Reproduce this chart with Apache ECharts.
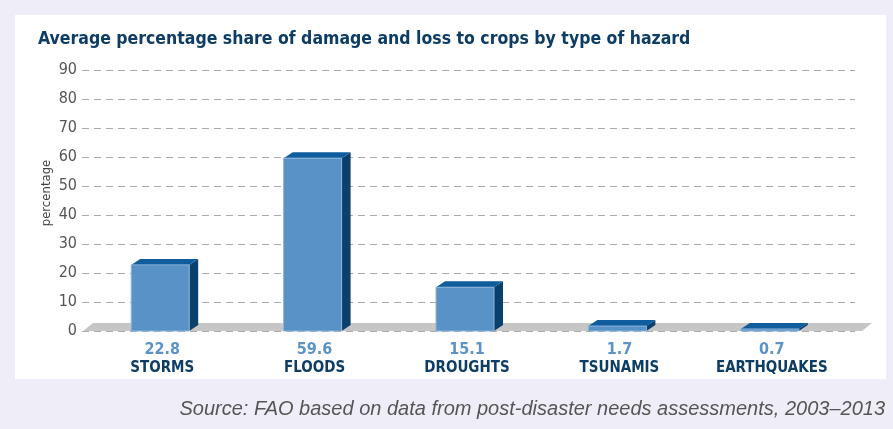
<!DOCTYPE html>
<html>
<head>
<meta charset="utf-8">
<script src="https://cdn.jsdelivr.net/npm/echarts@6/dist/echarts.min.js"></script>
<style>
html,body{margin:0;padding:0;background:#efeef8;}
#panel{position:absolute;left:15px;top:15px;width:871px;height:364px;background:#ffffff;}
#chart{position:absolute;left:0;top:0;width:893px;height:429px;}
</style>
</head>
<body>
<div id="panel"></div>
<div id="chart"></div>
<script>
const categories = ['STORMS', 'FLOODS', 'DROUGHTS', 'TSUNAMIS', 'EARTHQUAKES'];
const values = [22.8, 59.6, 15.1, 1.7, 0.7];
const yTicks = [0, 10, 20, 30, 40, 50, 60, 70, 80, 90];

const FONT = "'Liberation Sans Narrow', 'DejaVu Sans Condensed', 'Liberation Sans', sans-serif";
const chart = echarts.init(document.getElementById('chart'), null, {renderer: 'canvas'});

const option = {
  backgroundColor: 'transparent',
  animation: false,
  title: [
    {
      text: 'Average percentage share of damage and loss to crops by type of hazard',
      left: 33, top: 25,
      textStyle: {fontFamily: FONT, fontSize: 17.5, fontWeight: 'bold', color: '#0d3c65'}
    },
    {
      text: 'Source: FAO based on data from post-disaster needs assessments, 2003\u20132013',
      right: 3, top: 394,
      textStyle: {fontFamily: "'Liberation Sans', sans-serif", fontSize: 20, fontStyle: 'italic', fontWeight: 'normal', color: '#555555'}
    }
  ],
  graphic: [
    {
      type: 'text', x: 47, y: 193, rotation: Math.PI / 2,
      style: {text: 'percentage', align: 'center', verticalAlign: 'middle',
        font: "13px 'Liberation Sans Narrow', 'DejaVu Sans Condensed', sans-serif", fill: '#444444'}
    }
  ],
  grid: [
    {left: 82, right: 38, top: 70, bottom: 98},
    {left: 86, right: 45, top: 70, bottom: 98}
  ],
  xAxis: [
    {type: 'value', gridIndex: 0, min: 0, max: 1, show: false},
    {
      type: 'category', gridIndex: 1, data: categories,
      axisLine: {show: false}, axisTick: {show: false},
      axisLabel: {
        margin: 10,
        interval: 0,
        formatter: function (val, idx) { return '{v|' + values[idx] + '}\n{n|' + val + '}'; },
        rich: {
          v: {fontFamily: FONT, fontSize: 16, fontWeight: 'bold', color: '#5b93c8', lineHeight: 18, align: 'center'},
          n: {fontFamily: FONT, fontSize: 15, fontWeight: 'bold', color: '#0d3c65', lineHeight: 18, align: 'center'}
        }
      }
    }
  ],
  yAxis: [
    {
      type: 'value', gridIndex: 0, min: yTicks[0], max: yTicks[yTicks.length - 1], interval: 10,
      axisLine: {show: false}, axisTick: {show: false},
      axisLabel: {fontFamily: FONT, fontSize: 16, color: '#555555', margin: 5},
      splitLine: {show: true, lineStyle: {color: '#aaaaaa', type: [7, 5], width: 1}}
    },
    {
      type: 'value', gridIndex: 1, min: yTicks[0], max: yTicks[yTicks.length - 1], interval: 10, show: false
    }
  ],
  series: [
    {
      type: 'custom', xAxisIndex: 0, yAxisIndex: 0, z: 1,
      data: [[0, 0]],
      renderItem: function (params, api) {
        const cs = params.coordSys;
        const y0 = api.coord([0, 0])[1];
        const dx = 10, dy = -8;
        return {
          type: 'polygon',
          shape: {points: [
            [cs.x + 1, y0], [cs.x + 1 + dx, y0 + dy],
            [cs.x + cs.width + 7 + dx, y0 + dy], [cs.x + cs.width + 7, y0]
          ]},
          style: {fill: '#c6c6c6'}
        };
      }
    },
    {
      type: 'custom', xAxisIndex: 1, yAxisIndex: 1, z: 3,
      data: values.map(function (v, i) { return [i, v]; }),
      renderItem: function (params, api) {
        const i = api.value(0), v = api.value(1);
        const b = api.coord([i, 0]);
        const t = api.coord([i, v]);
        const w = 58, dx = 9, dy = -6;
        const xl = b[0] - w / 2 - 2, xr = xl + w;
        const yb = b[1], yt = t[1];
        return {
          type: 'group',
          children: [
            {type: 'polygon', shape: {points: [[xr, yb], [xr + dx, yb + dy], [xr + dx, yt + dy], [xr, yt]]},
              style: {fill: '#0a406c'}},
            {type: 'polygon', shape: {points: [[xl, yt], [xl + dx, yt + dy], [xr + dx, yt + dy], [xr, yt]]},
              style: {fill: '#0f5d9c'}},
            {type: 'rect', shape: {x: xl, y: yt, width: w, height: yb - yt},
              style: {fill: '#5892c7', stroke: '#8db5dc', lineWidth: 1}}
          ]
        };
      }
    }
  ]
};
chart.setOption(option);
</script>
</body>
</html>
